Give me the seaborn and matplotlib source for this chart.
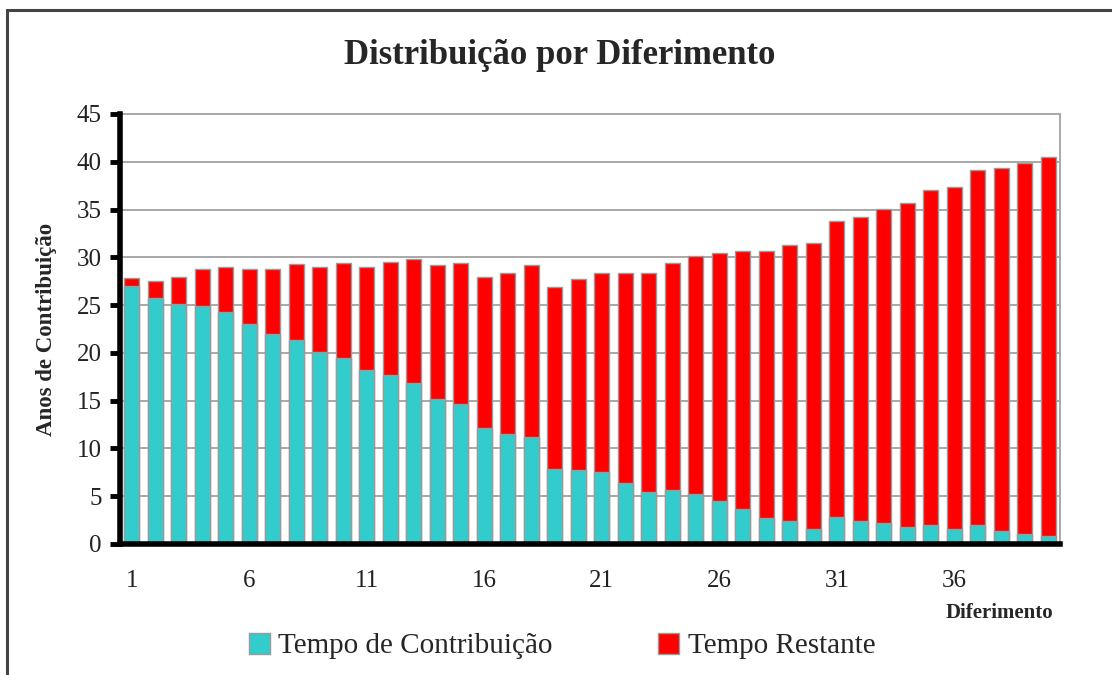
import matplotlib
matplotlib.use("Agg")
import matplotlib.pyplot as plt
from matplotlib.patches import Rectangle, Patch
import seaborn as sns
import pandas as pd
import numpy as np

# ---- data ----
categories = list(range(1, 41))
tempo_contribuicao = [27.0, 25.7, 25.1, 24.9, 24.3, 23.0, 22.0, 21.3, 20.1, 19.5,
                      18.2, 17.7, 16.9, 15.2, 14.6, 12.1, 11.5, 11.2, 7.9, 7.7,
                      7.5, 6.4, 5.4, 5.6, 5.2, 4.5, 3.7, 2.7, 2.4, 1.6,
                      2.8, 2.4, 2.2, 1.8, 2.0, 1.6, 2.0, 1.4, 1.0, 0.8]
tempo_restante = [0.8, 1.8, 2.8, 3.9, 4.7, 5.8, 6.8, 8.0, 8.9, 9.9,
                  10.8, 11.8, 12.9, 14.0, 14.8, 15.8, 16.9, 18.0, 19.0, 20.0,
                  20.9, 22.0, 23.0, 23.8, 24.9, 26.0, 27.0, 28.0, 28.9, 29.9,
                  31.0, 31.8, 32.9, 33.9, 35.0, 35.8, 37.1, 37.9, 38.9, 39.7]
xtick_labels = ["1", "6", "11", "16", "21", "26", "31", "36"]
yticks = [0, 5, 10, 15, 20, 25, 30, 35, 40, 45]

title = "Distribuição por Diferimento"
ylabel = "Anos de Contribuição"
xlabel = "Diferimento"
series_names = ["Tempo de Contribuição", "Tempo Restante"]

df = pd.DataFrame({
    "cat": [str(c) for c in categories],
    "contrib": tempo_contribuicao,
    "rest": tempo_restante,
})
df["total"] = df["contrib"] + df["rest"]

sns.set_theme(style="white")
plt.rcParams["font.family"] = ["Liberation Serif", "DejaVu Serif"]

TEAL = "#33CCCC"
RED = "#FF0000"
EDGE = "#9a9a9a"

fig = plt.figure(figsize=(11.12, 6.75), dpi=100)
ax = fig.add_axes([120 / 1112, 1 - 544 / 675, 940 / 1112, 430 / 675])

sns.barplot(data=df, x="cat", y="total", color=RED, ax=ax, width=0.62,
            edgecolor=EDGE, linewidth=1.0, saturation=1, zorder=3)
sns.barplot(data=df, x="cat", y="contrib", color=TEAL, ax=ax, width=0.62,
            edgecolor=EDGE, linewidth=1.0, saturation=1, zorder=4)

ax.set_xlim(-0.5, len(categories) - 0.5)
ax.set_ylim(0, 45)
ax.set_yticks(yticks)
ax.set_yticklabels([str(v) for v in yticks], fontsize=18, color="#222222")
ax.yaxis.grid(True, color="#a8a8a8", linewidth=1.4, zorder=0)
ax.set_axisbelow(True)

# x: labels at category centers (every 5), tick marks at boundaries
label_pos = [categories.index(int(l)) for l in xtick_labels]
ax.set_xticks(label_pos)
ax.set_xticklabels(xtick_labels, fontsize=18, color="#222222")
ax.set_xticks(np.arange(-0.5, len(categories), 5), minor=True)
ax.tick_params(axis="x", which="major", length=0, pad=19)
ax.tick_params(axis="x", which="minor", length=8, width=3.5, color="black", direction="out")
ax.tick_params(axis="y", which="major", length=7, width=3.5, color="black", direction="out", pad=6, left=True)

ax.set_xlabel("")
ax.set_ylabel("")
fig.text(47 / 1112, 1 - 329 / 675, ylabel, ha="center", va="center",
         rotation=90, fontsize=16.5, fontweight="bold")

for s in ["left", "bottom"]:
    ax.spines[s].set_linewidth(4)
    ax.spines[s].set_color("black")
    ax.spines[s].set_zorder(6)
for s in ["top", "right"]:
    ax.spines[s].set_visible(True)
    ax.spines[s].set_linewidth(1.4)
    ax.spines[s].set_color("#a8a8a8")

fig.text(560 / 1112, 1 - 55 / 675, title, ha="center", va="center",
         fontsize=25, fontweight="bold")
fig.text(999 / 1112, 1 - 613 / 675, xlabel, ha="center", va="center",
         fontsize=15, fontweight="bold")

handles = [Patch(facecolor=TEAL, edgecolor=EDGE, label=series_names[0]),
           Patch(facecolor=RED, edgecolor=EDGE, label=series_names[1])]
fig.legend(handles=handles, loc="center", bbox_to_anchor=(562 / 1112, 1 - 646 / 675),
           ncol=2, frameon=False, fontsize=21, handlelength=0.72, handleheight=0.72,
           handletextpad=0.3, columnspacing=3.6)

# outer frame
fig.patches.append(Rectangle((7 / 1112, -0.05), 1.2, 1 - 10 / 675 + 0.05,
                             transform=fig.transFigure, fill=False,
                             edgecolor="#444444", linewidth=2.2, zorder=0))

fig.savefig("out.png", dpi=100)
